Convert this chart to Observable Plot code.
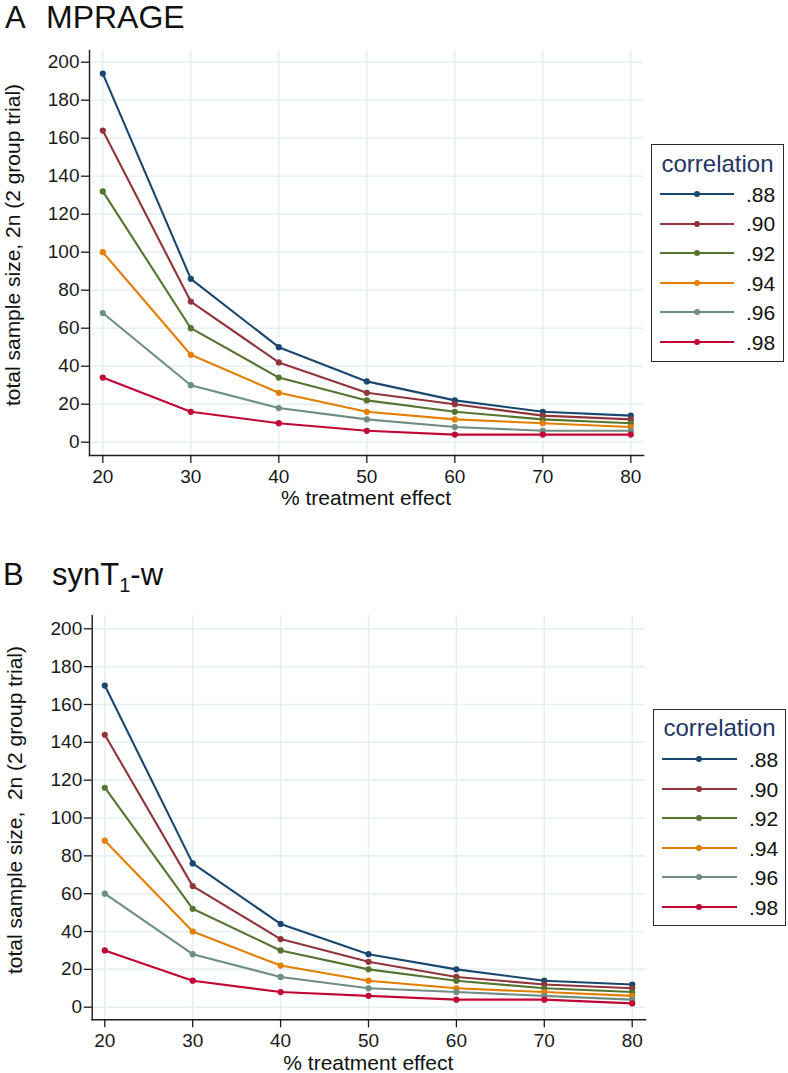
<!DOCTYPE html>
<html>
<head>
<meta charset="utf-8">
<script src="https://cdn.jsdelivr.net/npm/d3@7"></script>
<script src="https://cdn.jsdelivr.net/npm/@observablehq/plot@0.6"></script>
<style>
  html, body { margin: 0; padding: 0; background: #fff; }
  #root { position: relative; width: 788px; height: 1073px; overflow: hidden; font-family: "Liberation Sans", Arial, Helvetica, sans-serif; color: #111; }
  .abs { position: absolute; line-height: 1; white-space: pre; }
  .plot { position: absolute; }
</style>
</head>
<body>
<div id="root"></div>
<script>
// ---- data ----
const effects = [20, 30, 40, 50, 60, 70, 80];
const correlations = [".88", ".90", ".92", ".94", ".96", ".98"];
const yTicks = [0, 20, 40, 60, 80, 100, 120, 140, 160, 180, 200];

// Panel A: MPRAGE
const mprage88 = [194, 86, 50, 32, 22, 16, 14];
const mprage90 = [164, 74, 42, 26, 20, 14, 12];
const mprage92 = [132, 60, 34, 22, 16, 12, 10];
const mprage94 = [100, 46, 26, 16, 12, 10, 8];
const mprage96 = [68, 30, 18, 12, 8, 6, 6];
const mprage98 = [34, 16, 10, 6, 4, 4, 4];

// Panel B: synT1-w
const synt88 = [170, 76, 44, 28, 20, 14, 12];
const synt90 = [144, 64, 36, 24, 16, 12, 10];
const synt92 = [116, 52, 30, 20, 14, 10, 8];
const synt94 = [88, 40, 22, 14, 10, 8, 6];
const synt96 = [60, 28, 16, 10, 8, 6, 4];
const synt98 = [30, 14, 8, 6, 4, 4, 2];

const seriesColors = ["#1a476f", "#90353b", "#55752f", "#e37e00", "#6e8e84", "#c10534"];

// ---- rendering ----
const FONT = '"Liberation Sans", Arial, Helvetica, sans-serif';
const root = document.getElementById("root");

function toRows(series) {
  return series.flatMap((vals, i) =>
    vals.map((v, j) => ({effect: effects[j], n: v, corr: correlations[i]})));
}

function addText(html, left, baseline, size, extra = {}) {
  const d = document.createElement("div");
  d.className = "abs";
  d.innerHTML = html;
  d.style.fontSize = size + "px";
  d.style.left = left + "px";
  d.style.top = (baseline - 0.8465 * size) + "px";
  Object.assign(d.style, extra);
  root.appendChild(d);
  return d;
}

function panel(series, g) {
  const data = toRows(series);
  const chart = Plot.plot({
    width: g.width,
    height: g.height,
    marginLeft: g.left,
    marginRight: g.width - g.right,
    marginTop: g.top - g.svgTop,
    marginBottom: g.svgTop + g.height - g.bottom,
    style: {fontFamily: FONT, fontSize: "19px", color: "#1a1a1a", background: "transparent", overflow: "visible"},
    x: {domain: [20, 80], insetLeft: g.insetLeft, insetRight: g.insetRight},
    y: {domain: [0, 200], insetTop: g.insetTop, insetBottom: g.insetBottom},
    color: {domain: correlations, range: seriesColors},
    marks: [
      Plot.gridY(yTicks, {stroke: "#e4f0f3", strokeOpacity: 1, strokeWidth: 1.6}),
      Plot.gridX(effects, {stroke: "#e4f0f3", strokeOpacity: 1, strokeWidth: 1.6}),
      Plot.axisX(effects, {tickSize: 8, tickPadding: 6, label: null, fontSize: 19, strokeWidth: 1.3, tickFormat: d => d}),
      Plot.axisY(yTicks, {tickSize: 8, tickPadding: 2, label: null, fontSize: 19, strokeWidth: 1.3}),
      Plot.frame({anchor: "left", stroke: "#1a1a1a", strokeWidth: 1.4}),
      Plot.frame({anchor: "bottom", stroke: "#1a1a1a", strokeWidth: 1.4}),
      Plot.line(data, {x: "effect", y: "n", stroke: "corr", z: "corr", strokeWidth: 2.1}),
      Plot.dot(data, {x: "effect", y: "n", fill: "corr", r: 3.1})
    ]
  });
  chart.classList.add("plot");
  chart.style.left = "0px";
  chart.style.top = g.svgTop + "px";
  root.appendChild(chart);

  // axis titles
  const xt = addText("% treatment effect", (g.left + g.right) / 2, g.xTitleBase, 21);
  xt.style.transform = "translateX(-50%)";
  const yt = document.createElement("div");
  yt.className = "abs";
  yt.textContent = g.yTitle;
  yt.style.fontSize = "21px";
  yt.style.left = (g.yTitleBase - 0.8465 * 21) + "px";
  yt.style.top = g.yTitleCenter + "px";
  yt.style.transformOrigin = "0 0";
  yt.style.transform = "rotate(-90deg) translate(-50%, 0)";
  root.appendChild(yt);

  // legend
  const L = g.legend;
  const box = document.createElement("div");
  box.className = "abs";
  Object.assign(box.style, {left: L.x + "px", top: L.y + "px", width: L.w + "px", height: L.h + "px",
    border: "1.5px solid #2a2a2a", boxSizing: "border-box", background: "#fff"});
  root.appendChild(box);
  const tt = addText("correlation", L.x + L.w / 2, L.titleBase, 24, {color: "#1f3566"});
  tt.style.transform = "translateX(-50%)";
  correlations.forEach((c, i) => {
    const cy = L.row0 + i * L.step;
    const ln = document.createElement("div");
    ln.className = "abs";
    Object.assign(ln.style, {left: L.lx0 + "px", top: (cy - 1) + "px", width: (L.lx1 - L.lx0) + "px",
      height: "2px", background: seriesColors[i]});
    root.appendChild(ln);
    const dt = document.createElement("div");
    dt.className = "abs";
    const mx = (L.lx0 + L.lx1) / 2;
    Object.assign(dt.style, {left: (mx - 3) + "px", top: (cy - 3) + "px", width: "6px", height: "6px",
      borderRadius: "50%", background: seriesColors[i]});
    root.appendChild(dt);
    addText(c, L.labelX, cy + 7.5, 21);
  });
}

// panel titles
addText("A", 5, 28.5, 31);
addText("MPRAGE", 46, 28.5, 32);
addText("B", 3, 585, 31);
addText('synT<span style="font-size:20px;position:relative;top:7px">1</span>-w', 52, 585, 31);

panel([mprage88, mprage90, mprage92, mprage94, mprage96, mprage98], {
  width: 650, height: 480, svgTop: 40,
  left: 89, right: 643, top: 50, bottom: 455,
  insetLeft: 13.3, insetRight: 12.7, insetTop: 11.7, insetBottom: 13.3,
  xTitleBase: 505, yTitleBase: 20, yTitleCenter: 245,
  yTitle: "total sample size, 2n (2 group trial)",
  legend: {x: 651, y: 144, w: 133, h: 218, titleBase: 172, row0: 194, step: 29.6,
    lx0: 660, lx1: 734, labelX: 746}
});

panel([synt88, synt90, synt92, synt94, synt96, synt98], {
  width: 650, height: 498, svgTop: 575,
  left: 91.7, right: 645, top: 615, bottom: 1019.3,
  insetLeft: 12.6, insetRight: 13.3, insetTop: 13.3, insetBottom: 12.6,
  xTitleBase: 1070, yTitleBase: 22, yTitleCenter: 810,
  yTitle: "total sample size,  2n (2 group trial)",
  legend: {x: 653, y: 709, w: 133, h: 217, titleBase: 736, row0: 759.3, step: 29.5,
    lx0: 661.7, lx1: 736.7, labelX: 749}
});
</script>
</body>
</html>
